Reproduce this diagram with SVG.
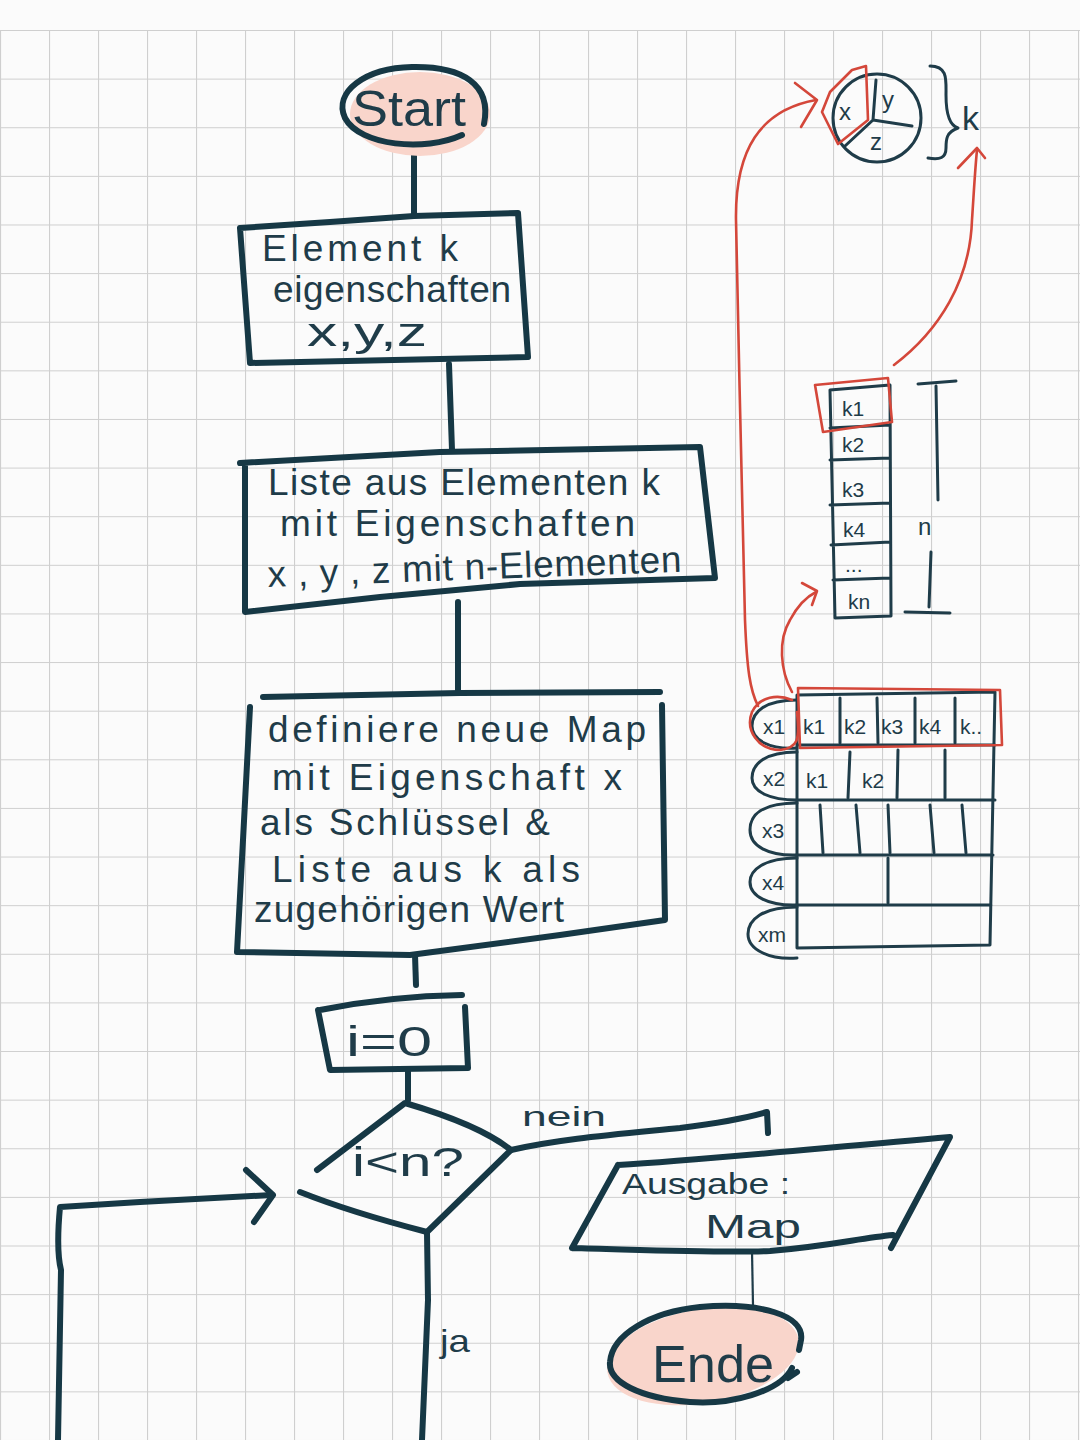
<svg xmlns="http://www.w3.org/2000/svg" width="1080" height="1440" viewBox="0 0 1080 1440">
<defs>
<pattern id="grid" patternUnits="userSpaceOnUse" x="0" y="30" width="49" height="48.62">
<path d="M0.5 0 V48.62 M0 0.5 H49" stroke="#cfcfcf" stroke-width="1.2" fill="none"/>
</pattern>
<style>
.ink{fill:none;stroke:#163845;stroke-width:6;stroke-linecap:round;stroke-linejoin:round}
.thin{fill:none;stroke:#1f3c49;stroke-width:3;stroke-linecap:round;stroke-linejoin:round}
.red{fill:none;stroke:#d4473a;stroke-width:2.6;stroke-linecap:round;stroke-linejoin:round}
.pink{fill:#f9d5cb}
.t{font-family:"Liberation Sans","DejaVu Sans",sans-serif;fill:#1f3c49}
.tb{font-size:37px}
.ts{font-size:21px}
</style>
</defs>
<rect width="1080" height="1440" fill="#fbfbfb"/>
<rect x="0" y="30" width="1080" height="1410" fill="url(#grid)"/>

<g id="connectors">
<path class="ink" d="M414 150 L414 215"/>
<path class="ink" d="M449 364 L452 450"/>
<path class="ink" d="M458 602 L458 692"/>
<path class="ink" d="M415 955 L416 985"/>
<path class="ink" d="M408 1072 L408 1100"/>
<path class="ink" d="M511 1150 C560 1139 610 1135 680 1128 C720 1123 750 1117 767 1112 L768 1133"/>
<path class="ink" d="M427 1233 L428 1300 L422 1440"/>
<path class="ink" d="M58 1440 L61 1270 Q56 1250 60 1207 L140 1202 L272 1195"/>
<path class="ink" d="M246 1170 L273 1195 L254 1222"/>
<path d="M752 1251 L753 1305" stroke="#1f3c49" stroke-width="2.2" fill="none"/>
<text class="t" x="522" y="1126" font-size="28" textLength="84" lengthAdjust="spacingAndGlyphs">nein</text>
<text class="t" x="440" y="1352" font-size="32" textLength="30" lengthAdjust="spacingAndGlyphs">ja</text>
</g>

<g id="start">
<ellipse class="pink" cx="420" cy="114" rx="70" ry="42"/>
<path class="ink" d="M462 135 C425 152 360 146 345 118 C333 92 365 68 412 67 C462 66 492 84 484 124"/>
<text class="t" x="352" y="126" font-size="50" textLength="114" lengthAdjust="spacingAndGlyphs">Start</text>
</g>

<g id="element">
<path class="ink" d="M240 228 L330 222 L414 216 L518 213 L528 357 L250 363 L240 228"/>
<text class="t tb" x="262" y="261" textLength="196">Element k</text>
<text class="t tb" x="273" y="302" textLength="238">eigenschaften</text>
<text class="t" x="307" y="346" font-size="40" textLength="120" lengthAdjust="spacingAndGlyphs">x,y,z</text>
</g>

<g id="liste">
<path class="ink" d="M240 463 L440 452 L700 447 L715 578 L520 584 L380 597 L245 612 L245 466"/>
<text class="t tb" x="268" y="495" textLength="392">Liste aus Elementen k</text>
<text class="t tb" x="280" y="536" textLength="355">mit Eigenschaften</text>
<text class="t tb" x="268" y="587" textLength="414" transform="rotate(-2.1 268 587)">x , y , z mit n-Elementen</text>
</g>

<g id="map">
<path class="ink" d="M263 697 L460 693 L660 692 M250 707 L243 840 L237 952 L410 955 L560 935 L665 920 L662 705"/>
<text class="t tb" x="268" y="742" textLength="378">definiere neue Map</text>
<text class="t tb" x="272" y="790" textLength="350">mit Eigenschaft x</text>
<text class="t tb" x="260" y="835" textLength="290">als Schlüssel &amp;</text>
<text class="t tb" x="272" y="882" textLength="308">Liste aus k als</text>
<text class="t tb" x="254" y="922" textLength="310">zugehörigen Wert</text>
</g>

<g id="init">
<path class="ink" d="M320 1010 Q390 996 462 995 M318 1010 L330 1070 L468 1068 L465 1007"/>
<text class="t" x="346" y="1056" font-size="42" textLength="86" lengthAdjust="spacingAndGlyphs">i=0</text>
</g>

<g id="decision">
<path class="ink" d="M317 1170 L405 1103 Q480 1125 511 1150 L427 1232 Q350 1212 300 1192"/>
<text class="t" x="352" y="1176" font-size="40" textLength="112" lengthAdjust="spacingAndGlyphs">i&lt;n?</text>
</g>

<g id="ausgabe">
<path class="ink" d="M618 1165 C700 1160 800 1150 950 1137 L891 1248 M572 1248 C650 1250 720 1253 770 1251 C830 1246 860 1238 893 1235 M618 1165 L572 1248"/>
<text class="t" x="622" y="1194" font-size="30" textLength="168" lengthAdjust="spacingAndGlyphs">Ausgabe :</text>
<text class="t" x="705" y="1238" font-size="34" textLength="96" lengthAdjust="spacingAndGlyphs">Map</text>
</g>

<g id="ende">
<ellipse class="pink" cx="703" cy="1356" rx="97" ry="47" transform="rotate(-10 703 1356)"/>
<path class="ink" d="M792 1368 C780 1392 730 1405 690 1402 C640 1398 608 1382 610 1362 C612 1335 650 1312 700 1307 C760 1302 805 1315 801 1340 L799 1350 M788 1378 L797 1372"/>
<text class="t" x="652" y="1382" font-size="52" textLength="122" lengthAdjust="spacingAndGlyphs">Ende</text>
</g>

<g id="element-k-circle">
<circle class="thin" cx="877" cy="118" r="44"/>
<path class="thin" d="M876 80 L873 120 L912 126 M873 120 L845 146"/>
<text class="t" x="839" y="120" font-size="24">x</text>
<text class="t" x="882" y="108" font-size="24">y</text>
<text class="t" x="870" y="150" font-size="24">z</text>
<path class="red" d="M866 66 L868 120 L838 144 L822 112 L830 92 L852 70 Z"/>
<path class="thin" d="M930 66 C948 66 946 80 946 95 C946 110 948 125 958 128 C946 132 946 140 946 148 C946 158 940 160 928 158"/>
<text class="t" x="962" y="130" font-size="34">k</text>
</g>

<g id="k-liste">
<path class="thin" d="M830 390 L890 385 L891 616 L835 618 Z M830 428 L890 425 M830 460 L890 458 M830 505 L890 503 M831 545 L890 542 M833 580 L890 578"/>
<text class="t ts" x="842" y="416">k1</text>
<text class="t ts" x="842" y="452">k2</text>
<text class="t ts" x="842" y="497">k3</text>
<text class="t ts" x="843" y="537">k4</text>
<text class="t ts" x="845" y="572">...</text>
<text class="t ts" x="848" y="609">kn</text>
<path class="red" d="M815 385 L888 378 L892 422 L823 432 Z"/>
<path class="thin" d="M918 384 L956 381 M936 386 L938 500 M931 552 L929 607 M905 612 L950 613"/>
<text class="t" x="918" y="535" font-size="24">n</text>
</g>

<g id="map-tabelle">
<path class="thin" d="M797 695 L995 692 L990 945 L797 948 Z M797 745 L995 745 M797 800 L995 800 M796 855 L993 855 M796 905 L991 905"/>
<path class="thin" d="M840 698 L840 743 M877 698 L878 743 M915 698 L915 743 M955 698 L955 743 M850 752 L848 798 M898 750 L897 798 M945 750 L945 798 M820 805 L823 853 M856 805 L860 853 M888 805 L890 853 M930 805 L934 853 M962 805 L966 853 M888 858 L888 903"/>
<text class="t ts" x="803" y="734">k1</text>
<text class="t ts" x="844" y="734">k2</text>
<text class="t ts" x="881" y="734">k3</text>
<text class="t ts" x="919" y="734">k4</text>
<text class="t ts" x="960" y="734">k..</text>
<text class="t ts" x="806" y="788">k1</text>
<text class="t ts" x="862" y="788">k2</text>
<path class="thin" d="M797 700 C765 700 752 712 752 726 C752 740 770 750 797 748 M797 752 C765 752 752 764 752 778 C752 792 770 800 797 800 M797 803 C762 803 750 815 750 830 C750 846 768 856 797 855 M797 858 C764 858 750 870 750 882 C750 896 768 906 797 905 M797 907 C762 907 748 920 748 934 C748 950 770 960 797 958"/>
<text class="t ts" x="763" y="734">x1</text>
<text class="t ts" x="763" y="786">x2</text>
<text class="t ts" x="762" y="838">x3</text>
<text class="t ts" x="762" y="890">x4</text>
<text class="t ts" x="758" y="942">xm</text>
<path class="red" d="M798 688 L1000 690 L1002 745 L800 748 Z"/>
<path class="red" d="M792 700 C778 694 760 696 752 712 C745 730 758 750 780 750 C798 748 800 740 797 712"/>
</g>

<g id="red-connectors">
<path class="red" d="M758 706 C750 690 747 670 745 620 C743 500 738 350 736 220 C735 150 760 110 816 100"/>
<path class="red" d="M795 83 L817 100 L801 127"/>
<path class="red" d="M894 365 C940 330 970 280 972 220 C974 190 975 170 977 150"/>
<path class="red" d="M958 168 L977 148 L985 158"/>
<path class="red" d="M792 692 C780 670 778 640 790 620 C798 605 808 596 816 592"/>
<path class="red" d="M802 583 L817 591 L812 605"/>
</g>
</svg>
